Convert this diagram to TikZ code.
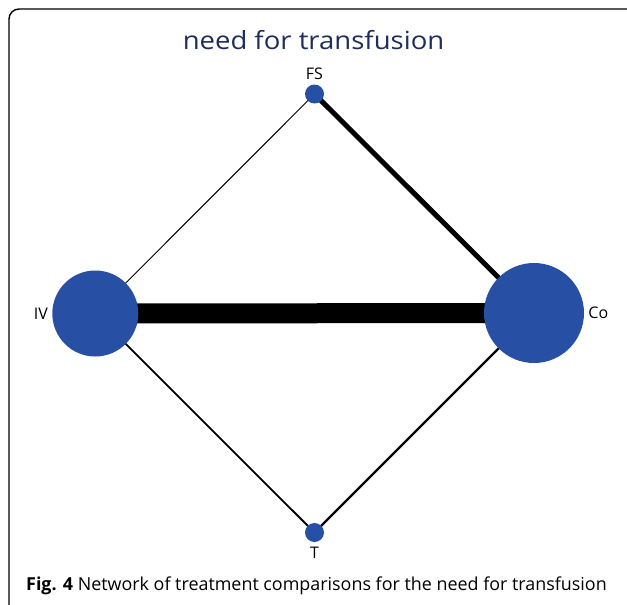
\documentclass[tikz,border=0pt]{standalone}
\usepackage{fontspec}
\setmainfont{Open Sans}
\newfontfamily\titlefont[FakeStretch=1.1]{Open Sans}
\definecolor{nodeblue}{HTML}{2750A4}
\definecolor{titlenavy}{HTML}{1F2D5B}
\begin{document}
\begin{tikzpicture}[x=1pt,y=-1pt,
  trt/.style={circle,fill=nodeblue,inner sep=0pt,minimum size=#1},
  lbl/.style={font=\fontsize{16}{16}\selectfont,inner sep=0pt},
  link/.style={line width=#1,black}]
  \useasboundingbox (0,0) rectangle (627,605);
  % frame (open to the right and bottom)
  \draw[line width=1.4pt,rounded corners=10pt] (9,605) -- (9,9) -- (627,9);
  % title
  \node[font=\titlefont\fontsize{25}{25}\selectfont,text=titlenavy,inner sep=0pt,anchor=base] (title) at (313.5,49) {need for transfusion};
  % treatment nodes
  \coordinate (FSc) at (314.5,94);
  \coordinate (IVc) at (95.3,313.5);
  \coordinate (Coc) at (534,313);
  \coordinate (Tc) at (314.5,532.5);
  % comparisons (drawn below the circles)
  \draw[link=20pt] (IVc) -- (Coc);
  \draw[link=5pt] (FSc) -- (Coc);
  \draw[link=1pt] (IVc) -- (FSc);
  \draw[link=1.8pt] (IVc) -- (Tc);
  \draw[link=2.4pt] (Tc) -- (Coc);
  \node[trt=19pt] (FS) at (FSc) {};
  \node[trt=86pt] (IV) at (IVc) {};
  \node[trt=100pt] (Co) at (Coc) {};
  \node[trt=19pt] (T) at (Tc) {};
  % labels
  \node[lbl,anchor=base] (FSl) at (314.5,79) {FS};
  \node[lbl,anchor=east] (IVl) at ([xshift=-4pt]IV.west) {IV};
  \node[lbl,anchor=west] (Col) at ([xshift=4pt]Co.east) {Co};
  \node[lbl,anchor=base] (Tl) at (314.5,558) {T};
  % caption
  \node[anchor=base west,inner sep=0pt,font=\fontsize{17.9}{17.9}\selectfont] (cap) at (26,590)
    {\textbf{Fig. 4} Network of treatment comparisons for the need for transfusion};
\end{tikzpicture}
\end{document}
